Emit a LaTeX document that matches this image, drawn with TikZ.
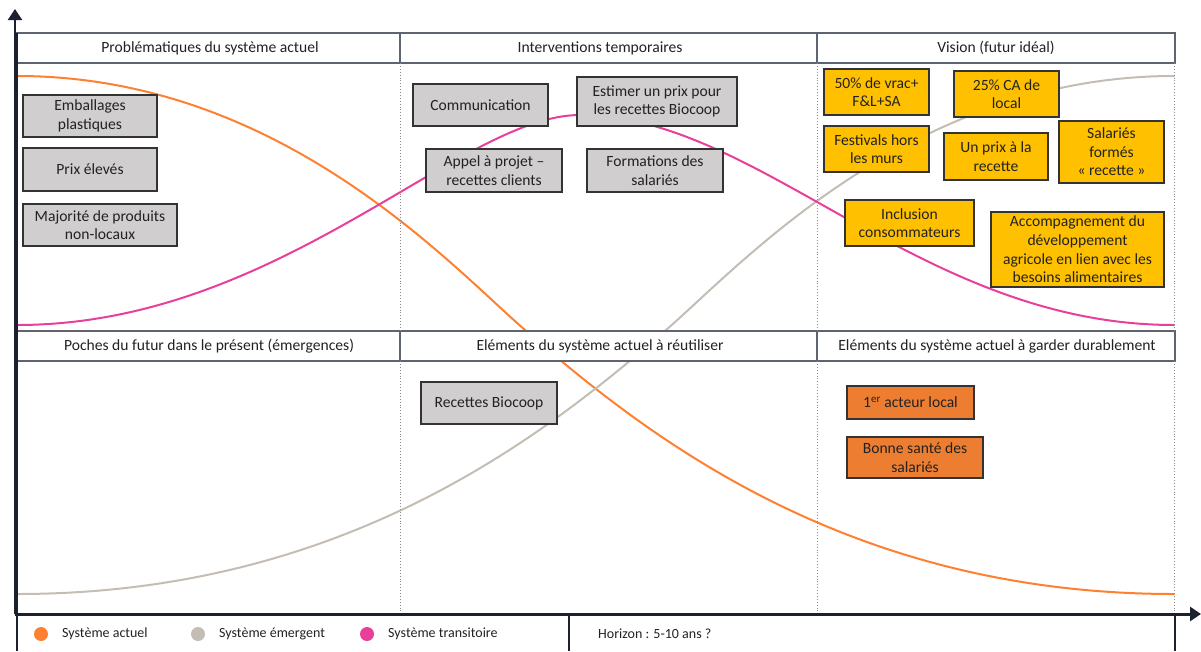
\documentclass[tikz,border=0pt]{standalone}
\usepackage{fontspec}
\setmainfont{Carlito}
\usepackage{tikz}
\usetikzlibrary{arrows.meta}
\definecolor{Encre}{HTML}{1C2130}
\definecolor{Trait}{HTML}{5F6570}
\definecolor{Grille}{HTML}{8A8A8A}
\definecolor{GrisBoite}{HTML}{D0CECE}
\definecolor{Jaune}{HTML}{FFC000}
\definecolor{OrangeBoite}{HTML}{ED7D31}
\definecolor{Actuel}{HTML}{FF8030}
\definecolor{Emergent}{HTML}{C4BDB4}
\definecolor{Transit}{HTML}{E8409A}
\definecolor{Texte}{HTML}{222222}
\tikzset{
 boite/.style={draw=black!80,line width=1.1pt,fill=GrisBoite,align=center,text=Texte,
   font=\fontsize{15.6}{18.6}\selectfont,inner sep=2pt},
 vision/.style={boite,fill=Jaune},
 garder/.style={boite,fill=OrangeBoite},
 entete/.style={font=\fontsize{15.6}{18}\selectfont,text=Texte},
 legende/.style={font=\fontsize{14}{16}\selectfont,text=Texte,anchor=west,inner sep=0pt},
 puce/.style={circle,minimum size=14pt,inner sep=0pt},
 courbe/.style={line width=2pt,line cap=round},
 cadre/.style={draw=Trait,line width=1.5pt},
 pointille/.style={draw=Grille,line width=0.9pt,dotted},
 axe/.style={draw=Encre,-{Triangle[length=11pt,width=14pt]}}
}
\begin{document}
\begin{tikzpicture}[x=1pt,y=-1pt]
\useasboundingbox (0,0) rectangle (1201,651);
% courbes des trois systemes
\draw[courbe,Actuel] (17,76) .. controls (280,76) and (450,265) .. (525,330)
  .. controls (650,439) and (850,594) .. (1174,594);
\draw[courbe,Emergent] (17,594) .. controls (341,594) and (541,439) .. (666,330)
  .. controls (741,265) and (911,76) .. (1174,76);
\draw[courbe,Transit] (17,325) .. controls (280,325) and (460,115) .. (580,115)
  .. controls (760,115) and (920,325) .. (1174,325);
% grille
\draw[cadre,fill=white] (17,33) rectangle (1175,63);
\draw[cadre,fill=white] (17,331) rectangle (1175,361);
\draw[cadre] (400,33)--(400,63) (817,33)--(817,63) (400,331)--(400,361) (817,331)--(817,361);
\foreach \x in {400,817,1174}{
  \draw[pointille] (\x,63)--(\x,331) (\x,361)--(\x,614);
}
\draw[cadre,draw=Encre] (17,33)--(17,651) (569,614)--(569,651) (1175,614)--(1175,651);
% axes
\coordinate (origine) at (15,614);
\coordinate (haut) at (15,9);
\coordinate (bout) at (1201,614);
\draw[axe,line width=2pt] (origine)--(haut);
\draw[axe,line width=3pt] (origine)--(bout);
% entetes
\node[entete] (h1) at (210,48) {Problématiques du système actuel};
\node[entete] (h2) at (600,48) {Interventions temporaires};
\node[entete] (h3) at (996,48) {Vision (futur idéal)};
\node[entete] (h4) at (209,346) {Poches du futur dans le présent (émergences)};
\node[entete] (h5) at (600,346) {Eléments du système actuel à réutiliser};
\node[entete] (h6) at (997,346) {Eléments du système actuel à garder durablement};
% problematiques
\node[boite,minimum width=134,minimum height=42] (emb) at (90,116) {Emballages\\plastiques};
\node[boite,minimum width=134,minimum height=43] (prix) at (90,169.5) {Prix élevés};
\node[boite,minimum width=154,minimum height=42] (maj) at (100,225) {Majorité de produits\\non-locaux};
% interventions
\node[boite,minimum width=135,minimum height=42] (comm) at (480.5,105) {Communication};
\node[boite,minimum width=160,minimum height=49] (estim) at (657,101.5) {Estimer un prix pour\\les recettes Biocoop};
\node[boite,minimum width=136,minimum height=43] (appel) at (494,170.5) {Appel à projet –\\recettes clients};
\node[boite,minimum width=136,minimum height=43] (form) at (655,170.5) {Formations des\\salariés};
% vision
\node[vision,minimum width=105,minimum height=46] (vrac) at (876.5,92) {50\% de vrac+\\F\&L+SA};
\node[vision,minimum width=105,minimum height=46] (ca) at (1006.5,94) {25\% CA de\\local};
\node[vision,minimum width=105,minimum height=46] (fest) at (876.5,149) {Festivals hors\\les murs};
\node[vision,minimum width=104,minimum height=47] (uprix) at (996,156.5) {Un prix à la\\recette};
\node[vision,minimum width=105,minimum height=62] (salf) at (1111.5,152) {Salariés\\formés\\« recette »};
\node[vision,minimum width=129,minimum height=46] (incl) at (909.5,223) {Inclusion\\consommateurs};
\node[vision,minimum width=173,minimum height=75] (accomp) at (1077.5,249.5) {Accompagnement du\\développement\\agricole en lien avec les\\besoins alimentaires};
% a reutiliser / a garder
\node[boite,minimum width=136,minimum height=42] (recb) at (489,403) {Recettes Biocoop};
\node[garder,minimum width=127,minimum height=33] (acteur) at (910.5,402.5) {1\textsuperscript{er} acteur local};
\node[garder,minimum width=136,minimum height=41] (sante) at (915,457.5) {Bonne santé des\\salariés};
% legende
\node[puce,fill=Actuel] (p1) at (41,634) {};
\node[legende] (l1) at (62,634) {Système actuel};
\node[puce,fill=Emergent] (p2) at (198,634) {};
\node[legende] (l2) at (219,634) {Système émergent};
\node[puce,fill=Transit] (p3) at (367,634) {};
\node[legende] (l3) at (388,634) {Système transitoire};
\node[legende] (hor) at (598,634) {Horizon : 5-10 ans ?};
\end{tikzpicture}
\end{document}
